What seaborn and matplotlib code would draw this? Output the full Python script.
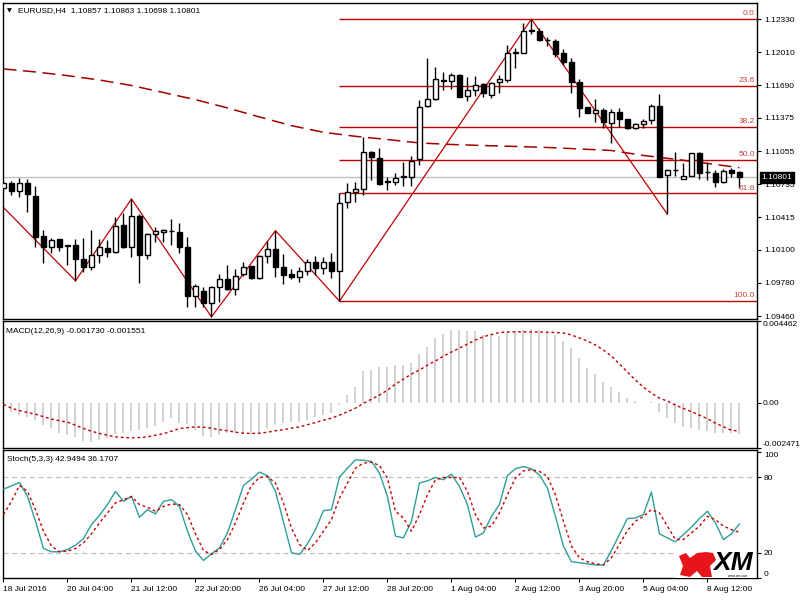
import matplotlib
matplotlib.use('Agg')
import matplotlib.pyplot as plt
import seaborn as sns
import numpy as np
from matplotlib.patches import Polygon, Rectangle

sns.set_theme(style='white')
plt.rcParams['font.family'] = ['Liberation Sans', 'DejaVu Sans']
plt.rcParams['axes.edgecolor'] = 'black'
plt.rcParams['text.color'] = 'black'
plt.rcParams['xtick.color'] = 'black'
plt.rcParams['ytick.color'] = 'black'

# ---------------- data ----------------
title_text = "EURUSD,H4  1.10857 1.10863 1.10698 1.10801"
opens = [
    1.10695, 1.10743, 1.10669, 1.10743, 1.10621, 1.10234, 1.10125, 1.10203, 1.10144, 1.10147,
    1.10012, 1.09937, 1.10048, 1.10118, 1.10083, 1.10341, 1.10131, 1.10427, 1.10051, 1.10254,
    1.10269, 1.10286, 1.10276, 1.10125, 1.09657, 1.09703, 1.09584, 1.09738, 1.09822, 1.09719,
    1.09864, 1.09941, 1.09832, 1.10041, 1.10109, 1.09935, 1.09867, 1.09841, 1.09896, 1.09986,
    1.09922, 1.09980, 1.09896, 1.10566, 1.10662, 1.10685, 1.11043, 1.10985, 1.10765, 1.10759,
    1.10807, 1.10807, 1.10975, 1.11490, 1.11555, 1.11734, 1.11734, 1.11789, 1.11587, 1.11645,
    1.11703, 1.11596, 1.11719, 1.11741, 1.12005, 1.11999, 1.12217, 1.12217, 1.12131, 1.12121,
    1.11999, 1.11918, 1.11725, 1.11478, 1.11425, 1.11451, 1.11329, 1.11430, 1.11362, 1.11281,
    1.11313, 1.11355, 1.11490, 1.10823, 1.10872, 1.10782, 1.10817, 1.11039, 1.10856, 1.10846,
    1.10759, 1.10872, 1.10857]
highs = [
    1.10765, 1.10768, 1.10791, 1.10785, 1.10720, 1.10292, 1.10212, 1.10206, 1.10147, 1.10206,
    1.10215, 1.10292, 1.10206, 1.10196, 1.10421, 1.10453, 1.10592, 1.10447, 1.10264, 1.10325,
    1.10300, 1.10396, 1.10363, 1.10228, 1.09770, 1.09745, 1.09751, 1.09864, 1.09951, 1.09918,
    1.09986, 1.09948, 1.10051, 1.10186, 1.10286, 1.10060, 1.09913, 1.09935, 1.10009, 1.10041,
    1.10028, 1.10067, 1.10652, 1.10743, 1.10759, 1.11194, 1.11055, 1.11082, 1.10807, 1.10846,
    1.10952, 1.11007, 1.11548, 1.11956, 1.11870, 1.11818, 1.11812, 1.11799, 1.11773, 1.11780,
    1.11710, 1.11725, 1.11789, 1.12079, 1.12047, 1.12295, 1.12330, 1.12240, 1.12160, 1.12134,
    1.12038, 1.11951, 1.11748, 1.11483, 1.11555, 1.11468, 1.11458, 1.11471, 1.11365, 1.11329,
    1.11362, 1.11509, 1.11606, 1.10880, 1.11049, 1.10937, 1.11039, 1.11049, 1.10952, 1.10872,
    1.10879, 1.10888, 1.10863]
lows = [
    1.10679, 1.10631, 1.10614, 1.10469, 1.10131, 1.09976, 1.10073, 1.10092, 1.09957, 1.09802,
    1.09890, 1.09906, 1.09976, 1.10034, 1.10073, 1.10115, 1.10034, 1.09783, 1.10009, 1.10180,
    1.10180, 1.10147, 1.10073, 1.09551, 1.09545, 1.09545, 1.09452, 1.09600, 1.09713, 1.09664,
    1.09848, 1.09819, 1.09816, 1.09970, 1.09835, 1.09767, 1.09816, 1.09793, 1.09855, 1.09858,
    1.09867, 1.09826, 1.09605, 1.10502, 1.10566, 1.10630, 1.10775, 1.10727, 1.10679, 1.10727,
    1.10717, 1.10717, 1.10920, 1.11483, 1.11548, 1.11645, 1.11651, 1.11574, 1.11541, 1.11587,
    1.11574, 1.11570, 1.11613, 1.11725, 1.11854, 1.11999, 1.12186, 1.12118, 1.12070, 1.11966,
    1.11886, 1.11613, 1.11387, 1.11420, 1.11338, 1.11278, 1.11130, 1.11290, 1.11265, 1.11265,
    1.11275, 1.11313, 1.10801, 1.10444, 1.10814, 1.10782, 1.10814, 1.10782, 1.10775, 1.10705,
    1.10749, 1.10801, 1.10698]
closes = [
    1.10743, 1.10669, 1.10743, 1.10637, 1.10227, 1.10125, 1.10196, 1.10131, 1.10138, 1.10009,
    1.09937, 1.10048, 1.10125, 1.10083, 1.10328, 1.10125, 1.10427, 1.10051, 1.10254, 1.10279,
    1.10292, 1.10283, 1.10125, 1.09654, 1.09751, 1.09584, 1.09742, 1.09822, 1.09726, 1.09851,
    1.09935, 1.09832, 1.10041, 1.10109, 1.09935, 1.09858, 1.09841, 1.09896, 1.09986, 1.09922,
    1.09980, 1.09899, 1.10556, 1.10662, 1.10685, 1.11043, 1.10995, 1.10737, 1.10756, 1.10797,
    1.10811, 1.10959, 1.11483, 1.11555, 1.11748, 1.11738, 1.11787, 1.11580, 1.11645, 1.11693,
    1.11613, 1.11710, 1.11751, 1.12005, 1.12009, 1.12217, 1.12221, 1.12128, 1.12125, 1.11992,
    1.11912, 1.11725, 1.11468, 1.11425, 1.11451, 1.11338, 1.11430, 1.11362, 1.11275, 1.11313,
    1.11348, 1.11490, 1.10807, 1.10872, 1.10875, 1.10817, 1.11033, 1.10846, 1.10853, 1.10759,
    1.10865, 1.10846, 1.10801]
last_price = 1.10801

ma_idx = [0, 4, 8, 12, 16, 20, 24, 28, 32, 36, 40, 44, 48, 52, 56, 60, 64, 68, 72, 76, 80, 84, 88, 92]
ma_vals = [1.11848, 1.11819, 1.11783, 1.11741, 1.11688, 1.11620, 1.11551, 1.11471, 1.11384, 1.11300,
           1.11236, 1.11197, 1.11166, 1.11133, 1.11118, 1.11108, 1.11099, 1.11089, 1.11075, 1.11060,
           1.11012, 1.10975, 1.10935, 1.10894]

zz_idx = [-1, 9, 16, 26, 34, 42, 66, 83]
zz_vals = [1.10588, 1.09802, 1.10592, 1.09452, 1.10286, 1.09605, 1.12330, 1.10444]

fib_levels = [0.0, 23.6, 38.2, 50.0, 61.8, 100.0]
fib_high_idx, fib_low_idx = 66, 42

price_ticks = [1.12330, 1.12010, 1.11690, 1.11375, 1.11055, 1.10735, 1.10415, 1.10100, 1.09780, 1.09460]

macd_hist = [
    -0.000459, -0.000531, -0.000678, -0.000771, -0.000952, -0.001225, -0.001406, -0.001679, -0.001772, -0.001865,
    -0.002100, -0.002139, -0.002046, -0.001920, -0.001734, -0.001679, -0.001553, -0.001498, -0.001406, -0.001264,
    -0.001045, -0.000859, -0.001132, -0.001187, -0.001498, -0.001811, -0.001865, -0.001772, -0.001679, -0.001625,
    -0.001679, -0.001734, -0.001734, -0.001406, -0.001225, -0.001132, -0.001078, -0.001045, -0.000952, -0.000771,
    -0.000678, -0.000585, -0.000131, 0.000416, 0.000870, 0.001729, 0.001783, 0.001964, 0.001964, 0.002057,
    0.002057, 0.002183, 0.002642, 0.003058, 0.003517, 0.003736, 0.003971, 0.003971, 0.003917, 0.003917,
    0.003698, 0.003736, 0.003659, 0.003878, 0.003917, 0.003971, 0.004026, 0.003971, 0.003878, 0.003698,
    0.003370, 0.003003, 0.002423, 0.001909, 0.001548, 0.001143, 0.000870, 0.000596, 0.000268, 0.000088,
    0.000000, 0.000016, -0.000498, -0.000859, -0.001132, -0.001318, -0.001406, -0.001498, -0.001553, -0.001679,
    -0.001679, -0.001625, -0.001730]
macd_signal = [
    -0.000093, -0.000295, -0.000432, -0.000531, -0.000624, -0.000760, -0.000897, -0.000979, -0.001061, -0.001225,
    -0.001406, -0.001553, -0.001679, -0.001772, -0.001865, -0.001898, -0.001920, -0.001898, -0.001865, -0.001772,
    -0.001690, -0.001553, -0.001406, -0.001362, -0.001318, -0.001335, -0.001389, -0.001471, -0.001526, -0.001608,
    -0.001663, -0.001679, -0.001663, -0.001608, -0.001526, -0.001471, -0.001389, -0.001318, -0.001198, -0.001078,
    -0.000952, -0.000842, -0.000678, -0.000498, -0.000295, -0.000038, 0.000197, 0.000416, 0.000689, 0.001017,
    0.001291, 0.001564, 0.001783, 0.002057, 0.002276, 0.002549, 0.002768, 0.002987, 0.003205, 0.003424,
    0.003605, 0.003725, 0.003834, 0.003862, 0.003873, 0.003873, 0.003862, 0.003862, 0.003851, 0.003834,
    0.003807, 0.003698, 0.003534, 0.003370, 0.003151, 0.002877, 0.002549, 0.002111, 0.001674, 0.001236,
    0.000853, 0.000525, 0.000252, 0.000088, -0.000131, -0.000312, -0.000487, -0.000678, -0.000870, -0.001116,
    -0.001307, -0.001499, -0.001551]
macd_range = [-0.002471, 0.004462]
macd_title = "MACD(12,26,9) -0.001730 -0.001551"

stoch_k = [
    70.5, 73, 75.8, 64.7, 45, 23.4, 20.8, 20.8, 22.6, 26,
    31.3, 42.4, 49.7, 58.2, 68.7, 60.8, 64.7, 48.2, 54.2, 50.8,
    60.8, 62.1, 56.8, 37.1, 21.3, 13.9, 19.2, 23.9, 35.8, 54.2,
    73.4, 78.4, 84, 81.1, 68.7, 44.5, 20, 18.7, 27.1, 38.4,
    53.4, 54.2, 80, 87.1, 93.7, 93.4, 92.4, 83.2, 64.7, 33.2,
    31.8, 45, 75.3, 77.1, 79.7, 77.9, 82.4, 72.6, 58.2, 32.4,
    35.8, 48.9, 58.2, 81.3, 86.6, 88.4, 86.6, 81.8, 71.3, 48.9,
    25.3, 12.9, 12.1, 11.3, 10.3, 10.3, 21.8, 34.5, 47.1, 47.6,
    50.3, 68.2, 35, 31.8, 28.7, 34.5, 40.3, 47.1, 52.9, 43.7,
    30.5, 35, 42.95]
stoch_d = [
    50.3, 60.8, 73.4, 68.7, 54.2, 37.1, 25.3, 20.8, 21.3, 23.4,
    27.9, 35, 43.7, 51.6, 59.5, 62.1, 64.7, 58.2, 56.1, 52.9,
    56.8, 58.7, 58.2, 50.3, 35, 21.8, 18.7, 22.6, 30.5, 43.7,
    59.5, 73.4, 79.7, 80.5, 75.3, 59.5, 39.7, 26.6, 21.8, 27.9,
    37.1, 46.3, 63.4, 75.3, 87.1, 91.1, 91.8, 89.2, 79.2, 52.9,
    47.6, 37.1, 50.3, 66, 77.9, 79.7, 79.7, 79.7, 68.7, 50.3,
    39.7, 41.1, 51.6, 66, 79.2, 85, 85.8, 84.5, 80.5, 66,
    45, 25.3, 16.1, 12.9, 11.3, 10.3, 16.1, 26.6, 37.6, 45,
    48.9, 54.2, 51.6, 41.1, 30.5, 30.5, 35.8, 41.1, 48.9, 46.3,
    41.1, 38.4, 36.17]
stoch_levels = [80, 20]
stoch_ticks = [100, 80, 20, 0]
stoch_title = "Stoch(5,3,3) 42.9494 36.1707"

time_tick_idx = [0, 8, 16, 24, 32, 40, 48, 56, 64, 72, 80, 88]
time_tick_labels = ["18 Jul 2016", "20 Jul 04:00", "21 Jul 12:00", "22 Jul 20:00", "26 Jul 04:00",
                    "27 Jul 12:00", "28 Jul 20:00", "1 Aug 04:00", "2 Aug 12:00", "3 Aug 20:00",
                    "5 Aug 04:00", "8 Aug 12:00"]

# ---------------- figure ----------------
W, H = 800, 600
fig = plt.figure(figsize=(8, 6), dpi=100)
fig.patch.set_facecolor('white')


def px_axes(x0, y0, x1, y1):
    return fig.add_axes([x0 / W, 1 - y1 / H, (x1 - x0) / W, (y1 - y0) / H])


ax = px_axes(2.7, 3, 757, 319)
axm = px_axes(2.7, 321, 757, 448)
axs = px_axes(2.7, 450, 757, 578)

XLIM = (-0.1, 94.2)
FS = 6
RED = '#c00000'

for a in (ax, axm, axs):
    a.set_xlim(*XLIM)
    a.set_facecolor('white')
    for sp in a.spines.values():
        sp.set_color('black')
        sp.set_linewidth(1.0)
    a.tick_params(axis='y', left=False, right=True, labelleft=False, labelright=True,
                  length=3, width=0.8, labelsize=FS, pad=2, direction='out')
    a.grid(False)

# ---- main price panel ----
idx = np.arange(len(opens))
o, h, l, c = (np.array(v) for v in (opens, highs, lows, closes))
up = c >= o
ax.axhline(last_price, color='#c0c0c0', lw=1, zorder=1)

hi = highs[fib_high_idx]
lo = lows[fib_low_idx]
for lev in fib_levels:
    p = hi - (hi - lo) * lev / 100.0
    ax.hlines(p, fib_low_idx, XLIM[1], color=RED, lw=1.0, zorder=2)
    ax.annotate(f'{lev:.1f}', xy=(1, p), xycoords=('axes fraction', 'data'),
                xytext=(-1.5, 1.2), textcoords='offset points', ha='right', va='bottom',
                fontsize=FS, color='#c84040', zorder=6)

sns.lineplot(x=zz_idx, y=zz_vals, ax=ax, color=RED, linewidth=0.9, zorder=2)
sns.lineplot(x=ma_idx, y=ma_vals, ax=ax, color='#a00000', linewidth=1.1, zorder=2)
ax.lines[-1].set_linestyle((0, (8.5, 4.3)))

ax.vlines(idx, l, h, color='black', lw=1, zorder=3)
body_lo = np.minimum(o, c)
body_h = np.maximum(np.abs(c - o), 0.00002)
ax.bar(idx[up], body_h[up], bottom=body_lo[up], width=0.6, color='white',
       edgecolor='black', linewidth=1, zorder=4)
ax.bar(idx[~up], body_h[~up], bottom=body_lo[~up], width=0.6, color='black',
       edgecolor='black', linewidth=1, zorder=4)

ax.set_ylim(1.09432, 1.12485)
ax.set_yticks(price_ticks)
ax.set_yticklabels([f'{v:.5f}' for v in price_ticks])
ax.set_xticks([])
ax.set_xlabel('')
ax.set_ylabel('')
ax.annotate(f'{last_price:.5f}', xy=(1, last_price), xycoords=('axes fraction', 'data'),
            xytext=(4.5, 0), textcoords='offset pixels', ha='left', va='center',
            fontsize=FS, color='white', annotation_clip=False, zorder=10,
            bbox=dict(boxstyle='square,pad=0.22', fc='black', ec='black'))

# ---- MACD panel ----
axm.vlines(idx, 0, macd_hist, color='#c4c4c4', lw=1.1, zorder=2)
sns.lineplot(x=idx, y=macd_signal, ax=axm, color=RED, linewidth=1.0, zorder=3)
axm.lines[-1].set_linestyle((0, (2, 2)))
axm.set_ylim(*macd_range)
mt = [macd_range[1], 0.0, macd_range[0]]
axm.set_yticks(mt)
axm.set_yticklabels(['0.004462', '0.00', '-0.002471'])
axm.tick_params(axis='y', pad=1)
lbls = axm.get_yticklabels()
lbls[0].set_va('top')
lbls[2].set_va('bottom')
axm.set_xticks([])
axm.set_xlabel('')
axm.set_ylabel('')
axm.text(0.004, 0.921, macd_title, transform=axm.transAxes, fontsize=FS, va='center', ha='left')

# ---- Stochastic panel ----
for lv in stoch_levels:
    axs.axhline(lv, color='#c0c0c0', lw=0.9, ls=(0, (4, 3)), zorder=1)
sns.lineplot(x=idx, y=stoch_k, ax=axs, color='#2f9e9b', linewidth=1.0, zorder=3)
sns.lineplot(x=idx, y=stoch_d, ax=axs, color='#cc0000', linewidth=1.0, zorder=3)
axs.lines[-1].set_linestyle((0, (2, 2)))
axs.set_ylim(0.3, 101.5)
axs.set_yticks(stoch_ticks)
axs.set_yticklabels([str(v) for v in stoch_ticks])
sl = axs.get_yticklabels()
sl[0].set_va('top')
sl[-1].set_va('bottom')
axs.set_xticks(time_tick_idx)
axs.set_xticklabels(time_tick_labels, ha='left')
axs.tick_params(axis='x', bottom=True, length=3, width=0.8, labelsize=FS, pad=3, direction='out')
axs.set_xlabel('')
axs.set_ylabel('')
axs.text(0.006, 0.922, stoch_title, transform=axs.transAxes, fontsize=FS, va='center', ha='left')

# ---- header ----
fig.text(7 / W, 1 - 10.8 / H, '\u25bc', fontsize=4.5, va='center', ha='left',
         family=['DejaVu Sans'])
fig.text(18 / W, 1 - 10.5 / H, title_text, fontsize=FS, va='center', ha='left')

# ---- XM logo ----
fig.add_artist(Rectangle((676 / W, 1 - 577.5 / H), 80 / W, 28 / H, transform=fig.transFigure,
                         fc='white', ec='none', zorder=5))
bull = [(679, 556), (686, 553), (690, 558), (697, 553), (706, 552), (713, 553), (716, 560),
        (710, 566), (712, 577), (702, 577), (697, 571), (690, 577), (680, 575), (683, 566)]
fig.add_artist(Polygon([(x / W, 1 - y / H) for x, y in bull], closed=True,
                       transform=fig.transFigure, fc='#e8141b', ec='none', zorder=6))
fig.text(713 / W, 1 - 569.5 / H, 'XM', fontsize=19, fontweight='bold', fontstyle='italic',
         va='baseline', ha='left', zorder=7, color='black')
fig.text(728 / W, 1 - 576.3 / H, 'www.xm.com', fontsize=2.3, va='center', ha='left', zorder=7)

fig.savefig('out.png', dpi=100, facecolor='white')
